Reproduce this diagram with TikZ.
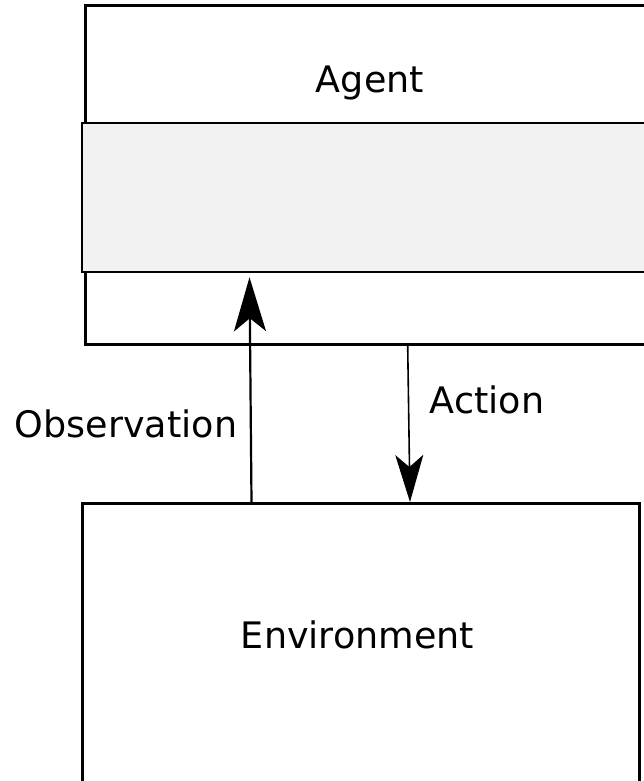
\documentclass[tikz,border=0pt]{standalone}
\usepackage{fontspec}
\setmainfont{DejaVu Sans}
\usetikzlibrary{arrows.meta}
\definecolor{panelgrey}{HTML}{F2F2F2}
\tikzset{
  box/.style={draw=black, line width=3pt, rectangle, inner sep=0pt, fill=white},
  panel/.style={draw=black, line width=1.5pt, rectangle, inner sep=0pt, fill=panelgrey},
  lbl/.style={anchor=base, inner sep=0pt, font=\fontsize{36.5}{44}\selectfont},
  obsarrow/.style={line width=2.2pt, -{Stealth[length=54pt, width=32pt, inset=13pt]}},
  actarrow/.style={line width=1.6pt, -{Stealth[length=47pt, width=28pt, inset=12pt]}}
}
\begin{document}
\begin{tikzpicture}[x=1pt, y=-1pt]
\useasboundingbox (0,0) rectangle (644,781);
\clip (0,0) rectangle (644,781);
% Agent box (extends past right edge)
\node[box, minimum width=614.5pt, minimum height=338.5pt] (agent) at (392.75,175.25) {};
% grey panel
\node[panel, minimum width=618pt, minimum height=149pt] (panel) at (391,197.5) {};
% Environment box (extends past bottom edge)
\node[box, minimum width=557pt, minimum height=320pt] (env) at (361,663.5) {};
% labels
\node[lbl] (agentlbl) at (370,93) {Agent};
\node[lbl] (envlbl) at (357.5,648) {Environment};
\node[lbl] (obslbl) at (126,437) {Observation};
\node[lbl] (actlbl) at (487,413) {Action};
% helper x positions
\coordinate (obsx0) at (251.5,0);
\coordinate (obsx1) at (249.5,0);
\coordinate (actx0) at (407.7,0);
\coordinate (actx1) at (410,0);
\coordinate (obstip) at ([yshift=-4.5pt]panel.south -| obsx1);
% connectors
\draw[obsarrow] (env.north -| obsx0) -- (obstip);
\draw[actarrow] (agent.south -| actx0) -- (env.north -| actx1);
\end{tikzpicture}
\end{document}
